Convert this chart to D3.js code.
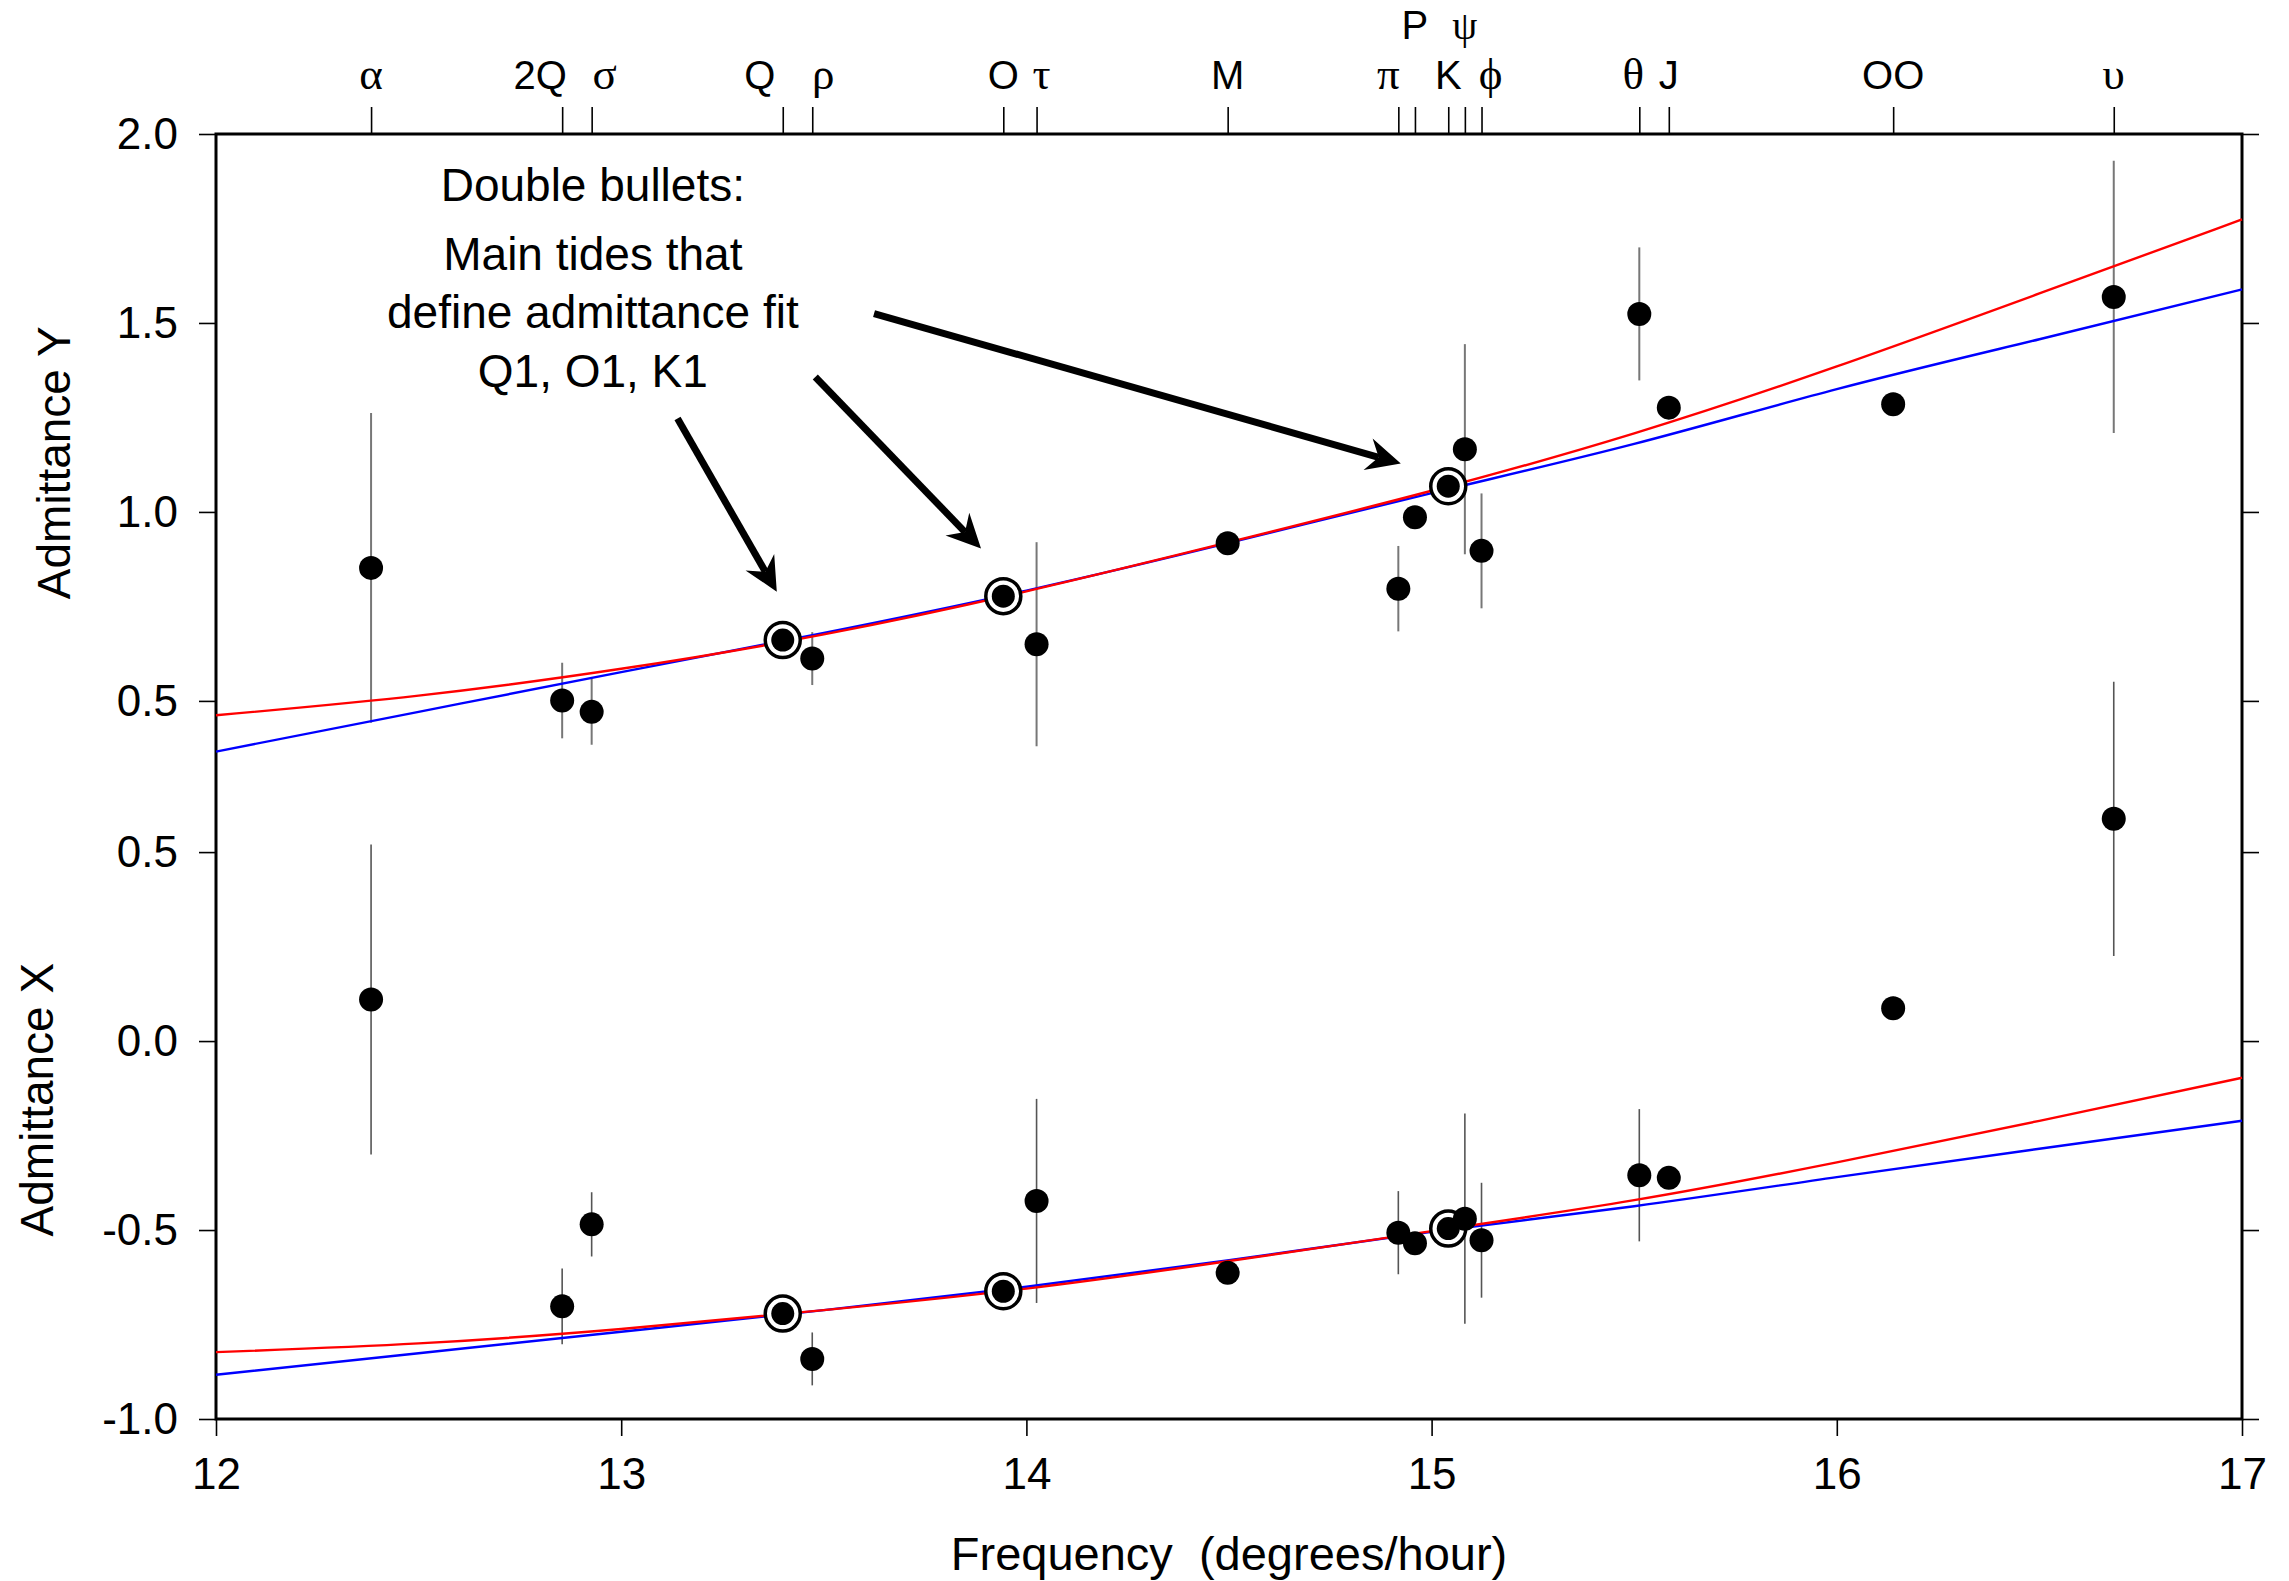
<!DOCTYPE html>
<html>
<head>
<meta charset="utf-8">
<script src="https://cdn.jsdelivr.net/npm/d3@7"></script>
<style>
  body { margin: 0; background: #fff; }
  svg { display: block; font-family: "Liberation Sans", Helvetica, Arial, sans-serif; }
  .axis path.domain { display: none; }
  .axis line { stroke: #000; stroke-width: 1.6; }
  .axis text { font-size: 44px; fill: #000; }
</style>
</head>
<body>
<svg width="2289" height="1581"></svg>
<script>
// diurnal tides: name, frequency (deg/hour)
var tideNames = ["α", "2Q", "σ", "Q", "ρ", "O", "τ", "M", "π", "P", "K", "ψ", "ϕ", "θ", "J", "OO", "υ"];
var tideFreq = [12.3827, 12.8543, 12.9271, 13.3987, 13.4715, 13.943, 14.0251, 14.4967, 14.9179,
  14.9589, 15.0411, 15.0821, 15.1232, 15.5126, 15.5854, 16.1391, 16.6835];
var mainTides = ["Q", "O", "K"];

// admittance Y (upper panel) and X (lower panel) with error half-widths
var admitY = [0.852, 0.501, 0.471, 0.661, 0.612, 0.777, 0.65, 0.917, 0.797, 0.986, 1.068, 1.166, 0.897, 1.524, 1.276, 1.285, 1.569];
var errY = [0.41, 0.1, 0.087, 0.01, 0.07, 0.01, 0.27, 0.02, 0.113, 0.02, 0.01, 0.278, 0.152, 0.176, 0.02, 0.03, 0.36];
var admitX = [0.11, -0.702, -0.485, -0.721, -0.841, -0.662, -0.423, -0.613, -0.507, -0.535, -0.496, -0.47, -0.527, -0.355, -0.362, 0.087, 0.588];
var errX = [0.41, 0.1, 0.085, 0.01, 0.07, 0.01, 0.27, 0.02, 0.11, 0.02, 0.01, 0.278, 0.152, 0.175, 0.02, 0.03, 0.363];

// fitted admittance curves
var fitFreq = [12, 12.5, 13, 13.5, 14, 14.5, 15, 15.5, 16, 16.5, 17];
var redY = [0.462, 0.514, 0.585, 0.676, 0.79, 0.92, 1.056, 1.208, 1.385, 1.578, 1.774];
var blueY = [0.366, 0.471, 0.576, 0.68, 0.792, 0.918, 1.05, 1.18, 1.325, 1.457, 1.589];
var redX = [-0.823, -0.8, -0.762, -0.712, -0.655, -0.582, -0.503, -0.421, -0.321, -0.211, -0.097];
var blueX = [-0.883, -0.826, -0.769, -0.712, -0.65, -0.58, -0.505, -0.437, -0.36, -0.285, -0.211];

var freqTicks = [12, 13, 14, 15, 16, 17];
var ticksY = [0.5, 1.0, 1.5, 2.0];
var ticksX = [-1.0, -0.5, 0.0, 0.5];
var offsetY = 0.4; // upper panel is shifted up by this much on the shared scale

var noteLines = ["Double bullets:", "Main tides that", "define admittance fit", "Q1, O1, K1"];

var svg = d3.select("svg"),
  margin = { top: 134, right: 47, bottom: 162, left: 216 },
  width = +svg.attr("width") - margin.left - margin.right,
  height = +svg.attr("height") - margin.top - margin.bottom;

var x = d3.scaleLinear().domain([12, 17]).range([0, width]);
var y = d3.scaleLinear().domain([-1, 2.4]).range([height, 0]);
var yUp = d3.scaleLinear().domain([-1 - offsetY, 2.4 - offsetY]).range([height, 0]);

var g = svg.append("g").attr("transform", "translate(" + margin.left + "," + margin.top + ")");

var fmt = function (d) { return d.toFixed(1); };

// axes
g.append("g")
  .attr("class", "axis")
  .attr("transform", "translate(0," + height + ")")
  .call(d3.axisBottom(x).tickValues(freqTicks).tickFormat(d3.format("d")).tickSize(17).tickPadding(22));

g.append("g").attr("class", "axis")
  .call(d3.axisLeft(yUp).tickValues(ticksY).tickFormat(fmt).tickSize(17).tickPadding(21));
g.append("g").attr("class", "axis")
  .call(d3.axisLeft(y).tickValues(ticksX).tickFormat(fmt).tickSize(17).tickPadding(21));
g.append("g").attr("class", "axis").attr("transform", "translate(" + width + ",0)")
  .call(d3.axisRight(yUp).tickValues(ticksY).tickFormat("").tickSize(17));
g.append("g").attr("class", "axis").attr("transform", "translate(" + width + ",0)")
  .call(d3.axisRight(y).tickValues(ticksX).tickFormat("").tickSize(17));

// tide ticks along the top
g.append("g").attr("class", "axis")
  .call(d3.axisTop(x).tickValues(tideFreq).tickFormat("").tickSize(27));

var labelNudge = { "2Q": -22, "σ": 13, "Q": -23, "ρ": 11, "τ": 5, "π": -10, "ϕ": 9, "θ": -6 };
var upperRow = ["P", "ψ"];
var greek = /[α-ωϕ]/;

g.selectAll(".tide-label")
  .data(tideNames)
  .enter()
  .append("text")
  .attr("class", "tide-label")
  .attr("x", function (d, i) { return x(tideFreq[i]) + (labelNudge[d] || 0); })
  .attr("y", function (d) { return upperRow.indexOf(d) >= 0 ? -95 : -45; })
  .attr("text-anchor", "middle")
  .style("font-family", function (d) {
    return greek.test(d) ? "'Liberation Serif', 'Times New Roman', serif" : null;
  })
  .style("font-size", function (d) {
    if (d === "ψ") return "40px";
    return greek.test(d) ? "45px" : "40px";
  })
  .text(function (d) { return d; });

// frame
g.append("rect")
  .attr("width", width)
  .attr("height", height)
  .attr("fill", "none")
  .attr("stroke", "#000")
  .attr("stroke-width", 3);

// error bars
var tides = tideNames.map(function (n, i) {
  return { name: n, f: tideFreq[i], ay: admitY[i], ey: errY[i], ax: admitX[i], ex: errX[i] };
});

g.selectAll(".errY")
  .data(tides)
  .enter()
  .append("line")
  .attr("x1", function (d) { return x(d.f); })
  .attr("x2", function (d) { return x(d.f); })
  .attr("y1", function (d) { return yUp(d.ay - d.ey); })
  .attr("y2", function (d) { return yUp(d.ay + d.ey); })
  .attr("stroke", "#777")
  .attr("stroke-width", 2);

g.selectAll(".errX")
  .data(tides)
  .enter()
  .append("line")
  .attr("x1", function (d) { return x(d.f); })
  .attr("x2", function (d) { return x(d.f); })
  .attr("y1", function (d) { return y(d.ax - d.ex); })
  .attr("y2", function (d) { return y(d.ax + d.ex); })
  .attr("stroke", "#555")
  .attr("stroke-width", 1.6);

// fit curves
function fitLine(scale, vals) {
  return d3.line()
    .curve(d3.curveNatural)
    .x(function (d) { return x(d); })
    .y(function (d, i) { return scale(vals[i]); })(fitFreq);
}
[[yUp, blueY, "#0000ff"], [y, blueX, "#0000ff"], [yUp, redY, "#ff0000"], [y, redX, "#ff0000"]]
  .forEach(function (c) {
    g.append("path")
      .attr("d", fitLine(c[0], c[1]))
      .attr("fill", "none")
      .attr("stroke", c[2])
      .attr("stroke-width", 2.4);
  });

// bullets
function drawDots(cls, scale, key) {
  var main = tides.filter(function (d) { return mainTides.indexOf(d.name) >= 0; });
  g.selectAll(".ring" + cls)
    .data(main)
    .enter()
    .append("circle")
    .attr("cx", function (d) { return x(d.f); })
    .attr("cy", function (d) { return scale(d[key]); })
    .attr("r", 17.5)
    .attr("fill", "#fff")
    .attr("stroke", "#000")
    .attr("stroke-width", 3.5);
  g.selectAll(".dot" + cls)
    .data(tides)
    .enter()
    .append("circle")
    .attr("cx", function (d) { return x(d.f); })
    .attr("cy", function (d) { return scale(d[key]); })
    .attr("r", function (d) { return mainTides.indexOf(d.name) >= 0 ? 11.5 : 12; })
    .attr("fill", "#000");
}
drawDots("Y", yUp, "ay");
drawDots("X", y, "ax");

// annotation
var note = g.append("text")
  .attr("text-anchor", "middle")
  .style("font-size", "46px");
var noteBase = [67, 136, 194, 253];
noteLines.forEach(function (t, i) {
  note.append("tspan").attr("x", x(12.93)).attr("y", noteBase[i]).text(t);
});

// arrows, in plot units: [from freq, from value, to freq, to value]
var arrows = [
  [13.139, 1.647, 13.384, 1.189],
  [13.479, 1.757, 13.888, 1.303],
  [13.624, 1.925, 14.924, 1.528]
];
arrows.forEach(function (a) {
  var x1 = x(a[0]), y1 = y(a[1]), x2 = x(a[2]), y2 = y(a[3]);
  var len = Math.hypot(x2 - x1, y2 - y1),
    ux = (x2 - x1) / len, uy = (y2 - y1) / len,
    nx = -uy, ny = ux,
    L = 34, W = 16.5, notch = 11;
  g.append("line")
    .attr("x1", x1).attr("y1", y1)
    .attr("x2", x2 - ux * (L - notch)).attr("y2", y2 - uy * (L - notch))
    .attr("stroke", "#000")
    .attr("stroke-width", 7);
  g.append("path")
    .attr("d", "M" + x2 + "," + y2 +
      "L" + (x2 - ux * L + nx * W) + "," + (y2 - uy * L + ny * W) +
      "L" + (x2 - ux * (L - notch)) + "," + (y2 - uy * (L - notch)) +
      "L" + (x2 - ux * L - nx * W) + "," + (y2 - uy * L - ny * W) + "Z")
    .attr("fill", "#000");
});

// axis titles
svg.append("text")
  .attr("x", margin.left + width / 2)
  .attr("y", 1570)
  .attr("text-anchor", "middle")
  .style("font-size", "47px")
  .style("white-space", "pre")
  .text("Frequency  (degrees/hour)");

svg.append("text")
  .attr("transform", "translate(70," + (margin.top + yUp(1.13)) + ") rotate(-90)")
  .attr("text-anchor", "middle")
  .style("font-size", "46px")
  .text("Admittance Y");

svg.append("text")
  .attr("transform", "translate(53," + (margin.top + y(-0.155)) + ") rotate(-90)")
  .attr("text-anchor", "middle")
  .style("font-size", "46px")
  .text("Admittance X");
</script>
</body>
</html>
